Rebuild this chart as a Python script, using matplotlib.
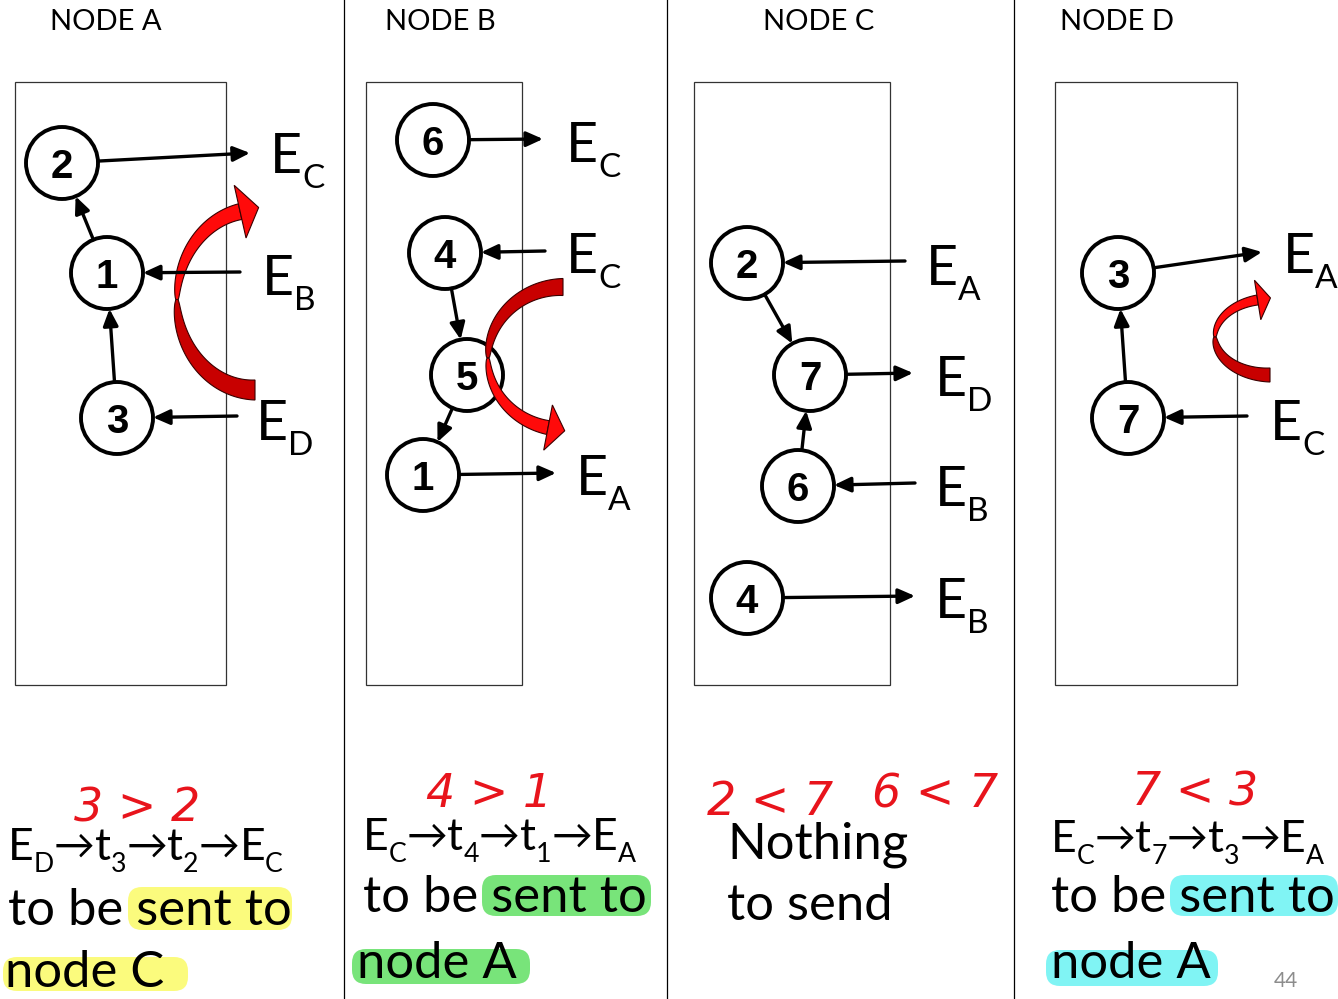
import matplotlib
matplotlib.use("Agg")
import matplotlib.pyplot as plt
from matplotlib.patches import Circle, Rectangle, FancyArrowPatch, FancyBboxPatch, Polygon
import numpy as np

W, H, DPI = 1338, 999, 100
FONT = ["Lato", "DejaVu Sans"]

# ---- layout of the four panels ----
titles = ["NODE A", "NODE B", "NODE C", "NODE D"]
title_x = [50, 385, 763, 1060]
separators = [344, 667, 1014]
boxes = [(15, 82, 226, 685), (366, 82, 522, 685), (694, 82, 890, 685), (1055, 82, 1237, 685)]

# ---- circles (task ids) per node ----
nodes_a = {"2": (62, 163), "1": (107, 273), "3": (117, 418)}
nodes_b = {"6": (433, 140), "4": (445, 253), "5": (467, 375), "1": (423, 475)}
nodes_c = {"2": (747, 263), "7": (810, 375), "6": (798, 486), "4": (747, 598)}
nodes_d = {"3": (1118, 273), "7": (1128, 418)}

links_a = [("1", "2"), ("3", "1")]
links_b = [("4", "5"), ("5", "1")]
links_c = [("2", "7"), ("6", "7")]
links_d = [("7", "3")]

# external edges: (circle, direction, free end, subscript, label baseline)
ext_a = [("2", "out", (250, 153), "C", (270, 173)),
         ("1", "in", (240, 272), "B", (262, 295)),
         ("3", "in", (237, 416), "D", (256, 440))]
ext_b = [("6", "out", (543, 139), "C", (566, 162)),
         ("4", "in", (545, 251), "C", (566, 273)),
         ("1", "out", (556, 473), "A", (576, 495))]
ext_c = [("2", "in", (905, 261), "A", (926, 285)),
         ("7", "out", (913, 373), "D", (935, 396)),
         ("6", "in", (915, 483), "B", (935, 506)),
         ("4", "out", (915, 596), "B", (935, 618))]
ext_d = [("3", "out", (1262, 252), "A", (1283, 273)),
         ("7", "in", (1247, 416), "C", (1270, 440))]

# red curled arrows: ellipse centre, radii, start/end angle, tail width,
# width at head, head half-width, head length
curls = [(255, 300, 78, 90, 90, 259, 20, 16, 27, 19),
         (563, 358, 75, 71, 270, 101.5, 17, 14, 23, 17),
         (1270, 337, 55, 38, 90, 257, 14, 10, 20, 13)]

# ---- bottom text ----
path_lines = [("E_D→t_3→t_2→E_C", 8, 860),
              ("E_C→t_4→t_1→E_A", 363, 850),
              ("E_C→t_7→t_3→E_A", 1051, 852)]
plain_lines = [("to be sent to", 8, 925), ("node C", 5, 987),
               ("to be sent to", 363, 912), ("node A", 357, 978),
               ("Nothing", 727, 858), ("to send", 727, 920),
               ("to be sent to", 1051, 912), ("node A", 1051, 978)]
highlights = [(128, 887, 292, 930, "#fbfb7d"), (3, 957, 188, 991, "#fbfb7d"),
              (482, 875, 651, 916, "#78e47a"), (352, 949, 530, 984, "#78e47a"),
              (1170, 875, 1338, 916, "#80f4f4"), (1046, 950, 1218, 986, "#80f4f4")]
notes = [("3 > 2", 137, 821), ("4 > 1", 489, 807), ("2 < 7", 770, 815),
         ("6 < 7", 935, 808), ("7 < 3", 1195, 805)]

R = 36
RED = "#e8141c"

fig = plt.figure(figsize=(W / DPI, H / DPI), dpi=DPI)
ax = fig.add_axes([0, 0, 1, 1])
ax.set_xlim(0, W)
ax.set_ylim(H, 0)
ax.axis("off")
renderer = fig.canvas.get_renderer()


def rich(x, y, s, size, **kw):
    em = size * DPI / 72
    parts, i = [], 0
    while i < len(s):
        if s[i] == "_":
            parts.append((s[i + 1], "sub"))
            i += 2
        elif s[i] == "→":
            parts.append((s[i], "arrow"))
            i += 1
        else:
            j = i
            while j < len(s) and s[j] not in "_→":
                j += 1
            parts.append((s[i:j], "txt"))
            i = j
    for txt, kind in parts:
        fs, yy = size, y
        if kind == "sub":
            fs, yy = size * 0.6, y + 0.27 * em
        elif kind == "arrow":
            fs, yy = size * 0.92, y - 0.03 * em
        t = ax.text(x, yy, txt, fontsize=fs, family=FONT, va="baseline", ha="left", **kw)
        x += t.get_window_extent(renderer).width


def edge_point(c, other):
    c, other = np.array(c, float), np.array(other, float)
    d = other - c
    return c + d / np.hypot(*d) * R


def arrow(p0, p1):
    ax.add_patch(FancyArrowPatch(p0, p1, arrowstyle="-|>,head_length=10,head_width=4.5",
                                 lw=2.4, color="black", shrinkA=0, shrinkB=0, zorder=5))


def ribbon(cx, cy, rx, ry, t0, t1, w0, w1, hw, hl):
    th = np.radians(np.linspace(t0, t1, 160))
    x = cx + rx * np.cos(th)
    y = cy + ry * np.sin(th)
    sg = np.sign(t1 - t0)
    dx, dy = -rx * np.sin(th) * sg, ry * np.cos(th) * sg
    n = np.hypot(dx, dy)
    ux, uy = dx / n, dy / n
    nx, ny = -uy, ux
    s = np.linspace(0, 1, len(th))
    pinch = (180 - t0) / (t1 - t0)
    # twisted band: thin where it turns, full width towards both ends
    frac = np.where(s < pinch, (pinch - s) / pinch, (s - pinch) / (1 - pinch))
    w = (1.5 + (np.where(s < pinch, w0, w1) - 1.5) * np.sqrt(frac)) / 2
    left = np.c_[x + nx * w, y + ny * w]
    right = np.c_[x - nx * w, y - ny * w]
    k = int(np.searchsorted(s, pinch))
    for sl, col in ((slice(0, k + 1), "#c80000"), (slice(k, None), "#ff0a0a")):
        poly = np.vstack([left[sl], right[sl][::-1]])
        ax.add_patch(Polygon(poly, closed=True, fc=col, ec="#3a0000", lw=0.8, zorder=4.5))
    ex, ey = x[-1], y[-1]
    head = [(ex + nx[-1] * hw, ey + ny[-1] * hw), (ex + ux[-1] * hl, ey + uy[-1] * hl),
            (ex - nx[-1] * hw, ey - ny[-1] * hw)]
    ax.add_patch(Polygon(head, closed=True, fc="#ff0a0a", ec="#3a0000", lw=0.8, zorder=4.6))


for x in separators:
    ax.plot([x, x], [0, H], color="black", lw=0.9)
for s, x in zip(titles, title_x):
    ax.text(x, 30, s, fontsize=21, family=FONT, va="baseline")
for x0, y0, x1, y1 in boxes:
    ax.add_patch(Rectangle((x0, y0), x1 - x0, y1 - y0, fill=False, ec="#333333", lw=0.9))

panels = [(nodes_a, links_a, ext_a), (nodes_b, links_b, ext_b),
          (nodes_c, links_c, ext_c), (nodes_d, links_d, ext_d)]
for nodes, links, ext in panels:
    for lab, (cx, cy) in nodes.items():
        ax.add_patch(Circle((cx, cy), R, fc="white", ec="black", lw=2.8, zorder=4))
        ax.text(cx, cy + 15, lab, fontsize=29, fontweight="bold", family="Liberation Sans",
                ha="center", va="baseline", zorder=5)
    for a, b in links:
        pa, pb = nodes[a], nodes[b]
        arrow(edge_point(pa, pb), edge_point(pb, pa))
    for n, direction, free, sub, (lx, ly) in ext:
        p = edge_point(nodes[n], free)
        if direction == "out":
            arrow(p, free)
        else:
            arrow(free, p)
        rich(lx, ly, "E_" + sub, 40)

for c in curls:
    ribbon(*c)

for x0, y0, x1, y1, col in highlights:
    ax.add_patch(FancyBboxPatch((x0, y0), x1 - x0, y1 - y0,
                                boxstyle="round,pad=0,rounding_size=14",
                                fc=col, ec="none", zorder=1))

for s, x, y in path_lines:
    rich(x, y, s, 32, zorder=2)
for s, x, y in plain_lines:
    ax.text(x, y, s, fontsize=36.5, family=FONT, va="baseline", zorder=2)

for s, x, y in notes:
    ax.text(x, y, s, fontsize=33, family="DejaVu Sans", style="oblique",
            color=RED, ha="center", va="baseline", zorder=7)

ax.text(1286, 987, "44", fontsize=15, family=FONT, color="#8c8c8c", ha="center", va="baseline")

fig.savefig("out.png", dpi=DPI)
